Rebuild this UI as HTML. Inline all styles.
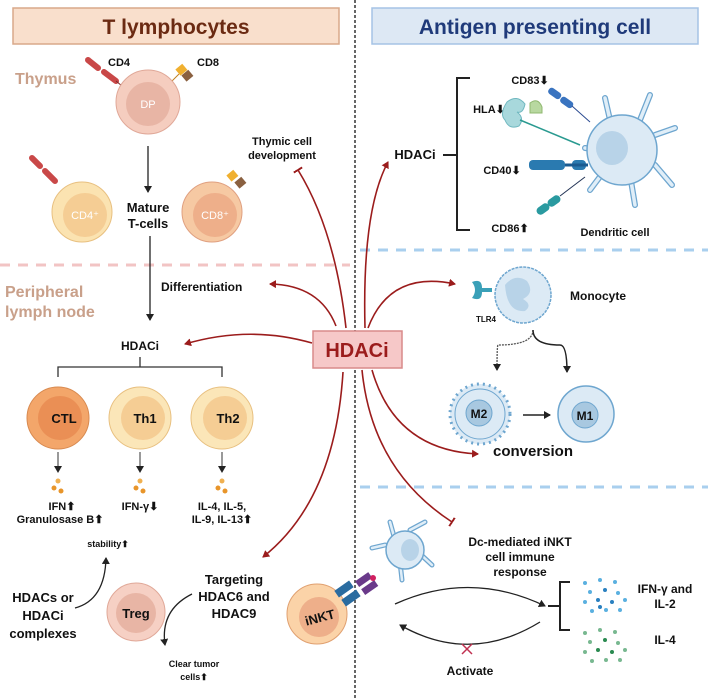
<!DOCTYPE html>
<html><head><meta charset="utf-8"><style>
body{margin:0;background:#fff}
svg{display:block;font-family:"Liberation Sans",sans-serif;font-weight:bold}
</style></head><body>
<svg width="708" height="698" viewBox="0 0 708 698" xmlns="http://www.w3.org/2000/svg">
<defs>
<marker id="ar" markerWidth="8" markerHeight="8" refX="6" refY="4" orient="auto" markerUnits="userSpaceOnUse"><path d="M0,0 L7,4 L0,8 Z" fill="#9b1c1c"/></marker>
<marker id="ak" markerWidth="8" markerHeight="8" refX="6" refY="4" orient="auto" markerUnits="userSpaceOnUse"><path d="M0,0 L7,4 L0,8 Z" fill="#222"/></marker>
<marker id="tb" markerWidth="2" markerHeight="10" refX="1" refY="5" orient="auto" markerUnits="userSpaceOnUse"><rect x="0" y="0" width="2" height="10" fill="#9b1c1c"/></marker>
</defs>
<!-- headers -->
<rect x="13" y="8" width="326" height="36" fill="#f9dfcc" stroke="#d9a98a" stroke-width="1.5"/>
<text x="176" y="34" font-size="21" fill="#6b2a12" text-anchor="middle">T lymphocytes</text>
<rect x="372" y="8" width="326" height="36" fill="#dde8f4" stroke="#a5c3e5" stroke-width="1.5"/>
<text x="535" y="34" font-size="21" fill="#1f3a7a" text-anchor="middle">Antigen presenting cell</text>
<line x1="355" y1="0" x2="355" y2="698" stroke="#333" stroke-width="1.5" stroke-dasharray="3,2"/>
<line x1="0" y1="265" x2="350" y2="265" stroke="#f2c4c4" stroke-width="3" stroke-dasharray="10,8"/>
<line x1="360" y1="250" x2="708" y2="250" stroke="#a9cfee" stroke-width="3" stroke-dasharray="10,8"/>
<line x1="360" y1="487" x2="708" y2="487" stroke="#a9cfee" stroke-width="3" stroke-dasharray="10,8"/>

<!-- Thymus -->
<text x="15" y="84" font-size="16" fill="#c9a08a">Thymus</text>
<g stroke="#c94848" stroke-width="6" stroke-linecap="round"><line x1="88" y1="60" x2="98" y2="68"/><line x1="104" y1="72" x2="116" y2="81"/></g>
<line x1="116" y1="81" x2="122" y2="86" stroke="#7a2a2a" stroke-width="1"/>
<text x="108" y="66" font-size="11" fill="#111">CD4</text>
<text x="197" y="66" font-size="11" fill="#111">CD8</text>
<rect x="177" y="66" width="9" height="8" fill="#f0b030" transform="rotate(-40 181 70)"/>
<rect x="183" y="72" width="9" height="8" fill="#8a6040" transform="rotate(-40 187 76)"/>
<line x1="171" y1="82" x2="179" y2="74" stroke="#c08020" stroke-width="1"/>
<circle cx="148" cy="102" r="32" fill="#f5cdbf" stroke="#e0a898"/>
<circle cx="148" cy="104" r="22" fill="#e8b5a5"/>
<text x="148" y="108" font-size="11" fill="#fff" font-weight="normal" text-anchor="middle">DP</text>
<line x1="148" y1="146" x2="148" y2="192" stroke="#222" stroke-width="1.3" marker-end="url(#ak)"/>
<g stroke="#c94848" stroke-width="6" stroke-linecap="round"><line x1="32" y1="158" x2="40" y2="166"/><line x1="45" y1="171" x2="55" y2="181"/></g>
<circle cx="82" cy="212" r="30" fill="#fbe3b1" stroke="#e8c080"/>
<circle cx="85" cy="215" r="22" fill="#f5cd94"/>
<text x="85" y="219" font-size="11" fill="#fff" font-weight="normal" text-anchor="middle">CD4⁺</text>
<rect x="228" y="172" width="9" height="8" fill="#f0b030" transform="rotate(-40 232 176)"/>
<rect x="236" y="179" width="9" height="8" fill="#8a6040" transform="rotate(-40 240 183)"/>
<circle cx="212" cy="212" r="30" fill="#f6c9a3" stroke="#e0a080"/>
<circle cx="215" cy="215" r="22" fill="#eeaf8a"/>
<text x="215" y="219" font-size="11" fill="#fff" font-weight="normal" text-anchor="middle">CD8⁺</text>
<text x="148" y="212" font-size="13" fill="#111" text-anchor="middle">Mature</text>
<text x="148" y="228" font-size="13" fill="#111" text-anchor="middle">T-cells</text>
<line x1="150" y1="236" x2="150" y2="320" stroke="#222" stroke-width="1.3" marker-end="url(#ak)"/>

<text x="5" y="297" font-size="16" fill="#c9a08a">Peripheral</text>
<text x="5" y="317" font-size="16" fill="#c9a08a">lymph node</text>
<text x="161" y="291" font-size="12" fill="#111">Differentiation</text>
<text x="140" y="350" font-size="12" fill="#111" text-anchor="middle">HDACi</text>
<path d="M140,357 V367 M58,377 V367 H222 V377" fill="none" stroke="#333" stroke-width="1.3"/>
<circle cx="58" cy="418" r="31" fill="#f3a66a" stroke="#d88a50"/><circle cx="60" cy="418" r="22" fill="#ea8f55"/>
<text x="64" y="423" font-size="13" fill="#111" text-anchor="middle">CTL</text>
<circle cx="140" cy="418" r="31" fill="#fbe6b8" stroke="#e8c080"/><circle cx="143" cy="418" r="22" fill="#f5cd94"/>
<text x="145" y="423" font-size="13" fill="#111" text-anchor="middle">Th1</text>
<circle cx="222" cy="418" r="31" fill="#fbe6b8" stroke="#e8c080"/><circle cx="225" cy="418" r="22" fill="#f5cd94"/>
<text x="228" y="423" font-size="13" fill="#111" text-anchor="middle">Th2</text>
<g stroke="#333" stroke-width="1"><line x1="58" y1="452" x2="58" y2="472" marker-end="url(#ak)"/><line x1="140" y1="452" x2="140" y2="472" marker-end="url(#ak)"/><line x1="222" y1="452" x2="222" y2="472" marker-end="url(#ak)"/></g>
<g fill="#e8952a"><circle cx="58" cy="481" r="2.5" fill="#f0b050"/><circle cx="54" cy="488" r="2.5"/><circle cx="61" cy="491" r="2.5"/>
<circle cx="140" cy="481" r="2.5" fill="#f0b050"/><circle cx="136" cy="488" r="2.5"/><circle cx="143" cy="491" r="2.5"/>
<circle cx="222" cy="481" r="2.5" fill="#f0b050"/><circle cx="218" cy="488" r="2.5"/><circle cx="225" cy="491" r="2.5"/></g>
<g font-size="11" fill="#111" text-anchor="middle">
<text x="62" y="510">IFN⬆</text><text x="60" y="523">Granulosase B⬆</text>
<text x="140" y="510">IFN-γ⬇</text>
<text x="222" y="510">IL-4, IL-5,</text><text x="222" y="523">IL-9, IL-13⬆</text>
<text x="108" y="547" font-size="9">stability⬆</text>
<text x="194" y="667" font-size="9">Clear tumor</text><text x="194" y="680" font-size="9">cells⬆</text></g>
<path d="M75,608 Q105,600 106,558" fill="none" stroke="#222" stroke-width="1.3" marker-end="url(#ak)"/>
<path d="M192,594 Q160,610 165,645" fill="none" stroke="#222" stroke-width="1.3" marker-end="url(#ak)"/>
<circle cx="136" cy="612" r="29" fill="#f6d0c4" stroke="#e0a898"/><circle cx="136" cy="613" r="20" fill="#e8b5a5"/>
<text x="136" y="618" font-size="13" fill="#111" text-anchor="middle">Treg</text>
<g font-size="13" fill="#111" text-anchor="middle"><text x="43" y="602">HDACs or</text><text x="43" y="620">HDACi</text><text x="43" y="638">complexes</text>
<text x="234" y="584">Targeting</text><text x="234" y="601">HDAC6 and</text><text x="234" y="618">HDAC9</text></g>
<circle cx="317" cy="614" r="30" fill="#fbd3a8" stroke="#e0a070"/><circle cx="319" cy="617" r="20" fill="#eeaf8a"/>
<text x="320" y="622" font-size="13" fill="#111" text-anchor="middle" transform="rotate(-15 320 618)">iNKT</text>
<g fill="#2a6ca0"><rect x="335" y="585" width="18" height="8" transform="rotate(-35 344 589)"/><rect x="342" y="594" width="18" height="8" transform="rotate(-35 351 598)"/></g>
<g fill="#6a3a8a"><rect x="356" y="576" width="16" height="7" transform="rotate(-35 364 580)"/><rect x="362" y="584" width="16" height="7" transform="rotate(-35 370 588)"/></g>
<circle cx="373" cy="578" r="3" fill="#d02060"/>

<!-- Right DC -->
<text x="415" y="159" font-size="13" fill="#111" text-anchor="middle">HDACi</text>
<path d="M443,155 H457 M470,78 H457 V230 H470" fill="none" stroke="#222" stroke-width="2"/>
<text x="530" y="84" font-size="11" fill="#111" text-anchor="middle">CD83⬇</text>
<text x="489" y="113" font-size="11" fill="#111" text-anchor="middle">HLA⬇</text>
<text x="502" y="174" font-size="11" fill="#111" text-anchor="middle">CD40⬇</text>
<text x="510" y="232" font-size="11" fill="#111" text-anchor="middle">CD86⬆</text>
<text x="615" y="236" font-size="11" fill="#111" text-anchor="middle">Dendritic cell</text>
<g stroke="#6ea6cf" stroke-width="6" stroke-linecap="round" fill="none">
<path d="M610,120 L605,98 M640,120 L650,95 M655,135 L675,128 M655,165 L672,185 M630,175 L635,205 M605,170 L590,190 M600,150 L585,148"/></g>
<g stroke="#e0eef8" stroke-width="3.5" stroke-linecap="round" fill="none">
<path d="M610,120 L605,98 M640,120 L650,95 M655,135 L675,128 M655,165 L672,185 M630,175 L635,205 M605,170 L590,190 M600,150 L585,148"/></g>
<circle cx="622" cy="150" r="35" fill="#dceaf5" stroke="#6ea6cf" stroke-width="1.5"/>
<ellipse cx="612" cy="148" rx="16" ry="17" fill="#b8d3e8"/>
<g fill="#3a74c0"><rect x="548" y="90" width="14" height="7" rx="3" transform="rotate(35 555 93)"/><rect x="560" y="99" width="14" height="7" rx="3" transform="rotate(35 567 102)"/></g>
<line x1="572" y1="106" x2="590" y2="122" stroke="#2a4a90"/>
<path d="M507,102 q10,-8 18,2 q-2,10 -8,8 q8,6 2,14 q-10,4 -14,-6 q-6,-6 2,-18z" fill="#a8d8dc" stroke="#70b8c0"/>
<path d="M530,103 q8,-6 12,4 v6 h-12z" fill="#b8d8a0" stroke="#90b870"/>
<line x1="520" y1="120" x2="580" y2="145" stroke="#2a9a90" stroke-width="1.5"/>
<g fill="#2a7ab0"><rect x="529" y="160" width="36" height="10" rx="4"/><rect x="572" y="160" width="14" height="10" rx="4"/></g>
<line x1="565" y1="165" x2="588" y2="165" stroke="#1a5a90" stroke-width="3"/>
<g fill="#2a9aa0"><rect x="536" y="205" width="14" height="8" rx="4" transform="rotate(-35 543 209)"/><rect x="547" y="197" width="14" height="8" rx="4" transform="rotate(-35 554 201)"/></g>
<line x1="560" y1="196" x2="585" y2="177" stroke="#235"/>

<!-- Monocyte -->
<circle cx="523" cy="295" r="28" fill="#dceaf5" stroke="#6ea6cf" stroke-width="1.5" stroke-dasharray="3,1"/>
<path d="M505,285 q10,-12 22,-4 q8,12 -4,18 q10,6 2,12 q-18,2 -20,-26z" fill="#b8d3e8"/>
<path d="M472,282 q10,-4 10,6 h10 v4 h-10 q0,10 -10,6 q6,-8 0,-16z" fill="#3aa0b8"/>
<text x="486" y="322" font-size="8" fill="#111" text-anchor="middle">TLR4</text>
<text x="570" y="300" font-size="12" fill="#111">Monocyte</text>
<path d="M533,330 Q533,345 498,345 Q497,345 497,370" fill="none" stroke="#555" stroke-width="1.3" stroke-dasharray="2,1" marker-end="url(#ak)"/>
<path d="M533,330 Q533,345 560,345 Q567,345 567,372" fill="none" stroke="#222" stroke-width="1.5" marker-end="url(#ak)"/>
<circle cx="480" cy="414" r="30" fill="#dceaf5" stroke="#6ea6cf" stroke-width="3" stroke-dasharray="2,4"/>
<circle cx="480" cy="414" r="25" fill="#dceaf5" stroke="#6ea6cf"/>
<circle cx="479" cy="413" r="13" fill="#a8c8e0" stroke="#6ea6cf"/>
<text x="479" y="418" font-size="12" fill="#111" text-anchor="middle">M2</text>
<line x1="523" y1="415" x2="550" y2="415" stroke="#222" stroke-width="1.5" marker-end="url(#ak)"/>
<circle cx="586" cy="414" r="28" fill="#dceaf5" stroke="#6ea6cf" stroke-width="1.5"/>
<circle cx="585" cy="415" r="13" fill="#a8c8e0" stroke="#6ea6cf"/>
<text x="585" y="420" font-size="12" fill="#111" text-anchor="middle">M1</text>
<text x="533" y="456" font-size="15" fill="#111" text-anchor="middle">conversion</text>

<!-- iNKT section DC -->
<g stroke="#6ea6cf" stroke-width="5" stroke-linecap="round"><path d="M395,540 L390,522 M410,530 L425,522 M418,552 L432,565 M400,562 L402,580 M385,545 L372,548"/></g>
<g stroke="#e0eef8" stroke-width="2.5" stroke-linecap="round"><path d="M395,540 L390,522 M410,530 L425,522 M418,552 L432,565 M400,562 L402,580 M385,545 L372,548"/></g>
<circle cx="405" cy="550" r="19" fill="#dceaf5" stroke="#6ea6cf" stroke-width="1.5"/>
<ellipse cx="410" cy="550" rx="9" ry="11" fill="#b8d3e8"/>
<g font-size="12" fill="#111" text-anchor="middle"><text x="520" y="546">Dc-mediated iNKT</text><text x="520" y="561">cell immune</text><text x="520" y="576">response</text>
<text x="665" y="593">IFN-γ and</text><text x="665" y="608">IL-2</text><text x="665" y="644">IL-4</text><text x="470" y="675">Activate</text></g>
<path d="M395,604 Q470,570 545,606" fill="none" stroke="#222" stroke-width="1.3" marker-end="url(#ak)"/>
<path d="M540,622 Q470,665 400,625" fill="none" stroke="#222" stroke-width="1.3" marker-end="url(#ak)"/>
<path d="M462,644 l10,10 m0,-10 l-10,10" stroke="#c03050" stroke-width="1.5"/>
<path d="M548,606 H560 M570,582 H560 V630 H570" fill="none" stroke="#222" stroke-width="2"/>
<g fill="#5ab0e0"><circle cx="585" cy="583" r="2"/><circle cx="600" cy="580" r="2"/><circle cx="615" cy="582" r="2"/><circle cx="590" cy="592" r="2"/><circle cx="605" cy="590" r="2" fill="#2a80c0"/><circle cx="618" cy="593" r="2"/><circle cx="585" cy="602" r="2"/><circle cx="598" cy="600" r="2" fill="#2a80c0"/><circle cx="612" cy="602" r="2" fill="#2a80c0"/><circle cx="625" cy="600" r="2"/><circle cx="592" cy="611" r="2"/><circle cx="606" cy="610" r="2"/><circle cx="620" cy="610" r="2"/><circle cx="600" cy="607" r="2" fill="#2a80c0"/></g>
<g fill="#78b890"><circle cx="585" cy="633" r="2"/><circle cx="600" cy="630" r="2"/><circle cx="615" cy="632" r="2"/><circle cx="590" cy="642" r="2"/><circle cx="605" cy="640" r="2" fill="#2a8a50"/><circle cx="618" cy="643" r="2"/><circle cx="585" cy="652" r="2"/><circle cx="598" cy="650" r="2" fill="#2a8a50"/><circle cx="612" cy="652" r="2" fill="#2a8a50"/><circle cx="625" cy="650" r="2"/><circle cx="592" cy="661" r="2"/><circle cx="606" cy="660" r="2"/><circle cx="620" cy="660" r="2"/></g>

<!-- red arrows -->
<text x="282" y="145" font-size="11" fill="#111" text-anchor="middle">Thymic cell</text>
<text x="282" y="159" font-size="11" fill="#111" text-anchor="middle">development</text>
<g fill="none" stroke="#9b1c1c" stroke-width="1.6">
<path d="M346,328 Q335,230 298,170" marker-end="url(#tb)"/>
<path d="M336,326 Q320,285 270,284" marker-end="url(#ar)"/>
<path d="M312,343 Q250,325 185,344" marker-end="url(#ar)"/>
<path d="M343,372 Q335,500 263,557" marker-end="url(#ar)"/>
<path d="M365,328 Q362,210 388,162" marker-end="url(#ar)"/>
<path d="M368,328 Q390,270 455,284" marker-end="url(#ar)"/>
<path d="M372,370 Q395,450 478,454" marker-end="url(#ar)"/>
<path d="M362,370 Q372,470 452,522" marker-end="url(#tb)"/>
</g>
<rect x="313" y="331" width="89" height="37" fill="#f6c8c8" stroke="#d98a8a" stroke-width="1.5"/>
<text x="357" y="357" font-size="20" fill="#9b1c1c" text-anchor="middle">HDACi</text>
</svg>
</body></html>
